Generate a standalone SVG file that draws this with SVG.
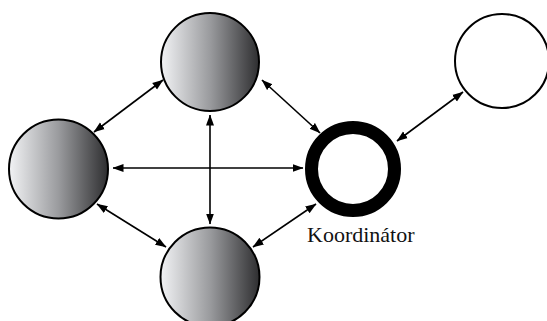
<svg xmlns="http://www.w3.org/2000/svg" width="547" height="321" viewBox="0 0 547 321">
  <defs>
    <linearGradient id="shade" x1="0" y1="0" x2="1" y2="0">
      <stop offset="0" stop-color="#f2f3f5"/>
      <stop offset="0.5" stop-color="#9a9b9e"/>
      <stop offset="1" stop-color="#2e2e30"/>
    </linearGradient>
    <marker id="head" markerUnits="userSpaceOnUse" markerWidth="11" markerHeight="9" refX="10.5" refY="4.5" orient="auto-start-reverse">
      <path d="M0,0.5 L11,4.5 L0,8.5 z" fill="#000"/>
    </marker>
  </defs>
  <style>
    .node { fill: url(#shade); stroke: #000; stroke-width: 2; }
    .plain { fill: #fff; stroke: #000; stroke-width: 2; }
    .coord { fill: #fff; stroke: #000; stroke-width: 13; }
    .link { stroke: #000; stroke-width: 1.6; fill: none; marker-start: url(#head); marker-end: url(#head); }
    .label { font-family: "Liberation Serif", "Times New Roman", serif; font-size: 22px; fill: #111; }
  </style>

  <g id="connectors">
    <line class="link" x1="94" y1="132" x2="163" y2="80"/>
    <line class="link" x1="113" y1="168" x2="303" y2="168"/>
    <line class="link" x1="97" y1="204" x2="166" y2="247"/>
    <line class="link" x1="210" y1="115" x2="210" y2="224"/>
    <line class="link" x1="262" y1="80" x2="320" y2="133"/>
    <line class="link" x1="316" y1="204" x2="253" y2="247"/>
    <line class="link" x1="397" y1="141" x2="463" y2="92"/>
  </g>

  <g id="node-top">
    <circle class="node" cx="210" cy="62" r="49"/>
  </g>
  <g id="node-left">
    <circle class="node" cx="58.5" cy="169" r="49.5"/>
  </g>
  <g id="node-bottom">
    <circle class="node" cx="210" cy="277" r="49.5"/>
  </g>
  <g id="node-right">
    <circle class="plain" cx="502" cy="61" r="47"/>
  </g>
  <g id="node-coordinator">
    <circle class="coord" cx="353" cy="169" r="41.5"/>
    <text class="label" x="307" y="242">Koordinátor</text>
  </g>
</svg>
